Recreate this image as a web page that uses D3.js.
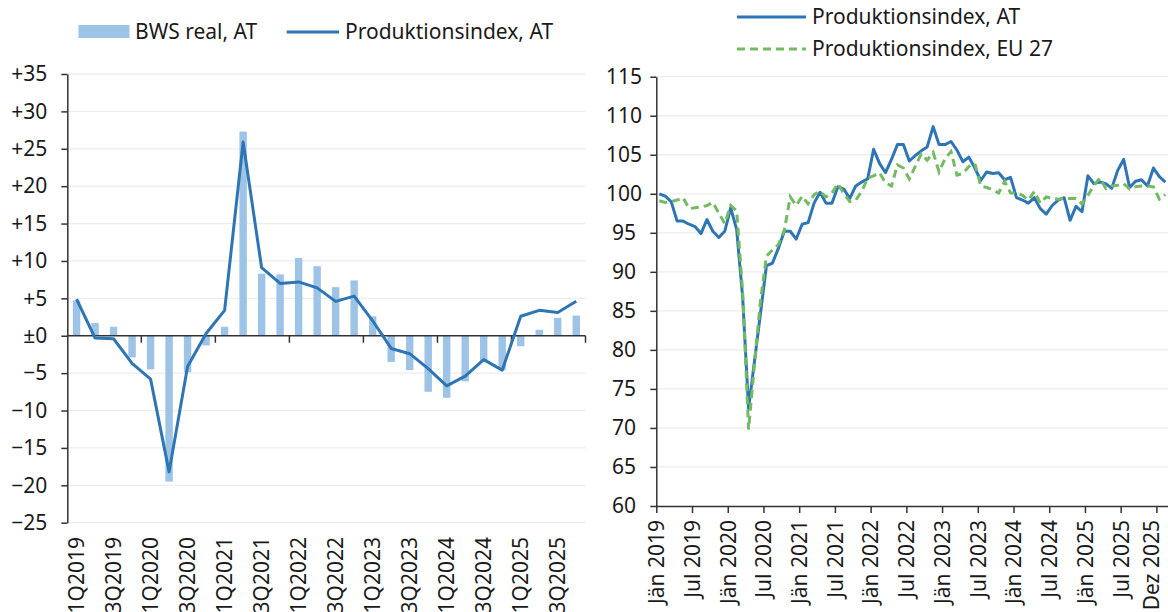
<!DOCTYPE html>
<html lang="de">
<head>
<meta charset="utf-8">
<title>BWS real und Produktionsindex</title>
<script src="https://cdn.jsdelivr.net/npm/d3@7"></script>
<style>
  body { margin: 0; background: #fff; }
  svg text { font-family: "Noto Sans", sans-serif; fill: #1a1a1a; font-size: 21px; }
  .achse path, .achse line { stroke: #333; stroke-width: 1.5px; }
  .gitter { stroke: #ededed; stroke-width: 1.3px; }
</style>
</head>
<body>
<script>
// linkes Diagramm: Veraenderung gg. Vorjahr in %
var quartale = ["1Q2019","2Q2019","3Q2019","4Q2019","1Q2020","2Q2020","3Q2020","4Q2020",
  "1Q2021","2Q2021","3Q2021","4Q2021","1Q2022","2Q2022","3Q2022","4Q2022",
  "1Q2023","2Q2023","3Q2023","4Q2023","1Q2024","2Q2024","3Q2024","4Q2024",
  "1Q2025","2Q2025","3Q2025","4Q2025"];
var bwsReal = [4.7, 1.7, 1.2, -2.9, -4.5, -19.5, -4.9, -1.3, 1.2, 27.3, 8.3, 8.2,
  10.4, 9.3, 6.5, 7.4, 2.6, -3.5, -4.6, -7.5, -8.3, -6.1, -3.4, -4.6, -1.4, 0.8, 2.4, 2.7];
var prodQuartal = [4.9, -0.3, -0.4, -3.7, -5.8, -18.2, -4.1, 0.3, 3.4, 25.9, 9.1, 7.0,
  7.2, 6.4, 4.6, 5.3, 2.0, -1.7, -2.4, -4.4, -6.7, -5.4, -3.2, -4.6, 2.6, 3.4, 3.1, 4.6];
var linksTicks = [35, 30, 25, 20, 15, 10, 5, 0, -5, -10, -15, -20, -25];

// rechtes Diagramm: Index, monatlich ab Jaenner 2019
var prodAT = [100.0, 99.7, 99.0, 96.5, 96.5, 96.1, 95.8, 94.9, 96.7, 95.2, 94.4, 95.2,
  98.2, 95.4, 86.8, 72.5, 78.6, 84.7, 90.8, 91.1, 93.0, 95.2, 95.2, 94.2,
  96.1, 96.3, 98.8, 100.2, 98.8, 98.8, 100.9, 100.6, 99.4, 101.0, 101.5, 101.9,
  105.7, 103.9, 102.7, 104.4, 106.3, 106.3, 104.2, 104.9, 105.5, 106.0, 108.6, 106.3,
  106.3, 106.7, 105.6, 104.1, 104.7, 103.3, 101.7, 102.8, 102.6, 102.7, 101.8, 102.1,
  99.5, 99.2, 98.8, 99.5, 98.1, 97.4, 98.5, 99.2, 99.5, 96.6, 98.4, 97.7,
  102.3, 101.3, 101.5, 101.3, 100.7, 103.0, 104.4, 100.8, 101.6, 101.8, 101.0, 103.3,
  102.2, 101.5];
var prodEU = [99.1, 98.9, 99.0, 99.2, 99.5, 98.1, 98.2, 98.3, 98.5, 98.9, 97.5, 96.2,
  98.5, 97.8, 87.5, 69.8, 78.3, 86.3, 92.0, 92.8, 93.5, 95.3, 99.6, 98.5,
  99.7, 98.7, 99.9, 100.3, 99.6, 100.1, 101.3, 100.0, 99.0, 99.2, 100.3, 102.0,
  102.3, 102.7, 101.4, 101.0, 103.7, 103.3, 101.9, 103.5, 105.1, 104.3, 105.3, 102.8,
  104.5, 105.4, 102.4, 102.6, 103.5, 103.9, 101.0, 100.8, 100.5, 100.1, 101.6, 100.1,
  100.1, 99.8, 99.2, 100.3, 98.8, 99.6, 99.4, 99.3, 99.4, 99.4, 99.4, 98.7,
  99.8, 101.1, 102.0, 100.7, 101.0, 101.1, 101.3, 100.6, 100.9, 101.0, 101.0, 100.9,
  99.3, 99.9];
var monatTicks = [0, 6, 12, 18, 24, 30, 36, 42, 48, 54, 60, 66, 72, 78, 84];
var monatLabels = ["Jän 2019","Jul 2019","Jän 2020","Jul 2020","Jän 2021","Jul 2021",
  "Jän 2022","Jul 2022","Jän 2023","Jul 2023","Jän 2024","Jul 2024","Jän 2025",
  "Jul 2025","Dez 2025"];
var rechtsTicks = [60, 65, 70, 75, 80, 85, 90, 95, 100, 105, 110, 115];

var hellblau = "#9dc3e6", blau = "#2e75b6", gruen = "#72bb62";

var svg = d3.select("body").append("svg")
  .attr("width", 1168)
  .attr("height", 612);

// ---------- links ----------
var xL = d3.scaleBand().domain(quartale).range([67.3, 585.5])
  .paddingInner(0.6).paddingOuter(0.3);
var yL = d3.scaleLinear().domain([-25, 35]).range([522.7, 74]);
var bw = xL.bandwidth(), st = xL.step();

svg.append("g").selectAll("line")
  .data(linksTicks.filter(function(d){ return d != 0; }))
  .enter().append("line")
  .attr("class", "gitter")
  .attr("x1", 67.3).attr("x2", 585.5)
  .attr("y1", function(d){ return yL(d); })
  .attr("y2", function(d){ return yL(d); });

svg.append("g").selectAll("rect")
  .data(bwsReal)
  .enter().append("rect")
  .attr("x", function(d, i){ return xL(quartale[i]); })
  .attr("width", bw)
  .attr("y", function(d){ return yL(Math.max(0, d)); })
  .attr("height", function(d){ return Math.abs(yL(d) - yL(0)); })
  .attr("fill", hellblau);

var achseL = svg.append("g").attr("class", "achse")
  .attr("transform", "translate(67.3,0)")
  .call(d3.axisLeft(yL).tickValues(linksTicks).tickSize(6).tickSizeOuter(0).tickPadding(14)
    .tickFormat(function(d){ return d > 0 ? "+" + d : (d == 0 ? "±0" : "−" + Math.abs(d)); }));
achseL.selectAll("text").attr("font-family", null).attr("font-size", null);

// Nulllinie mit Jahresstrichen
var grenzen = quartale.filter(function(d, i){ return i % 4 == 0 && i > 0; })
  .map(function(q){ return xL(q) - st * 0.3; });
grenzen.push(xL(quartale[quartale.length - 1]) + bw + st * 0.3);
var null0 = svg.append("g").attr("class", "achse");
null0.append("line").attr("x1", 67.3).attr("x2", 585.5)
  .attr("y1", yL(0)).attr("y2", yL(0));
null0.selectAll(".jt").data(grenzen).enter().append("line")
  .attr("x1", function(d){ return d; }).attr("x2", function(d){ return d; })
  .attr("y1", yL(0)).attr("y2", yL(0) + 7);

svg.append("path")
  .datum(prodQuartal)
  .attr("fill", "none")
  .attr("stroke", blau)
  .attr("stroke-width", 3)
  .attr("stroke-linejoin", "round")
  .attr("d", d3.line()
    .x(function(d, i){ return xL(quartale[i]) + bw / 2; })
    .y(function(d){ return yL(d); }));

svg.append("g").selectAll("text")
  .data(quartale.filter(function(d, i){ return i % 2 == 0; }))
  .enter().append("text")
  .attr("transform", function(q){ return "translate(" + (xL(q) + bw / 2) + ",537) rotate(-90)"; })
  .attr("dy", "0.35em")
  .attr("text-anchor", "end")
  .text(function(q){ return q; });

// Legende links
svg.append("rect").attr("x", 78.5).attr("y", 25).attr("width", 51).attr("height", 13).attr("fill", hellblau);
svg.append("text").attr("x", 135).attr("y", 31.5).attr("dy", "0.35em").text("BWS real, AT");
svg.append("line").attr("x1", 286.6).attr("x2", 339).attr("y1", 32).attr("y2", 32)
  .attr("stroke", blau).attr("stroke-width", 3);
svg.append("text").attr("x", 345).attr("y", 31.5).attr("dy", "0.35em").text("Produktionsindex, AT");

// ---------- rechts ----------
var xR = d3.scaleLinear().domain([0, 84]).range([656.3, 1156.4]);
var yR = d3.scaleLinear().domain([60, 115]).range([506, 76.7]);

svg.append("g").selectAll("line")
  .data(rechtsTicks.filter(function(d){ return d > 60; }))
  .enter().append("line")
  .attr("class", "gitter")
  .attr("x1", 656.3).attr("x2", 1168)
  .attr("y1", function(d){ return yR(d); })
  .attr("y2", function(d){ return yR(d); });

var achseRy = svg.append("g").attr("class", "achse")
  .attr("transform", "translate(656.3,0)")
  .call(d3.axisLeft(yR).tickValues(rechtsTicks).tickSize(6).tickSizeOuter(0));
achseRy.selectAll("text").attr("font-family", null).attr("font-size", null)
  .attr("x", -32.3).attr("text-anchor", "middle");

var achseRx = svg.append("g").attr("class", "achse")
  .attr("transform", "translate(0,506)")
  .call(d3.axisBottom(xR).tickValues(monatTicks).tickSize(7).tickSizeOuter(0)
    .tickFormat(function(d, i){ return monatLabels[i]; }));
achseRx.select(".domain").attr("d", "M656.3,0.5H1168");
achseRx.selectAll("text").attr("font-family", null).attr("font-size", null)
  .attr("transform", "rotate(-90)")
  .attr("x", -14).attr("y", 0)
  .attr("dy", function(d, i){ return i == monatTicks.length - 1 ? "0.1em" : "0.35em"; })
  .attr("text-anchor", "end");

var linieR = d3.line()
  .x(function(d, i){ return xR(i + 0.5); })
  .y(function(d){ return yR(d); });

svg.append("path").datum(prodAT)
  .attr("fill", "none").attr("stroke", blau).attr("stroke-width", 3)
  .attr("stroke-linejoin", "round").attr("d", linieR);
svg.append("path").datum(prodEU)
  .attr("fill", "none").attr("stroke", gruen).attr("stroke-width", 3)
  .attr("stroke-dasharray", "8,5").attr("d", linieR);

// Legende rechts
svg.append("line").attr("x1", 737).attr("x2", 806).attr("y1", 17).attr("y2", 17)
  .attr("stroke", blau).attr("stroke-width", 3);
svg.append("text").attr("x", 812).attr("y", 17).attr("dy", "0.35em").text("Produktionsindex, AT");
svg.append("line").attr("x1", 737).attr("x2", 806).attr("y1", 49).attr("y2", 49)
  .attr("stroke", gruen).attr("stroke-width", 3).attr("stroke-dasharray", "8,5");
svg.append("text").attr("x", 812).attr("y", 49).attr("dy", "0.35em").text("Produktionsindex, EU 27");
</script>
</body>
</html>
